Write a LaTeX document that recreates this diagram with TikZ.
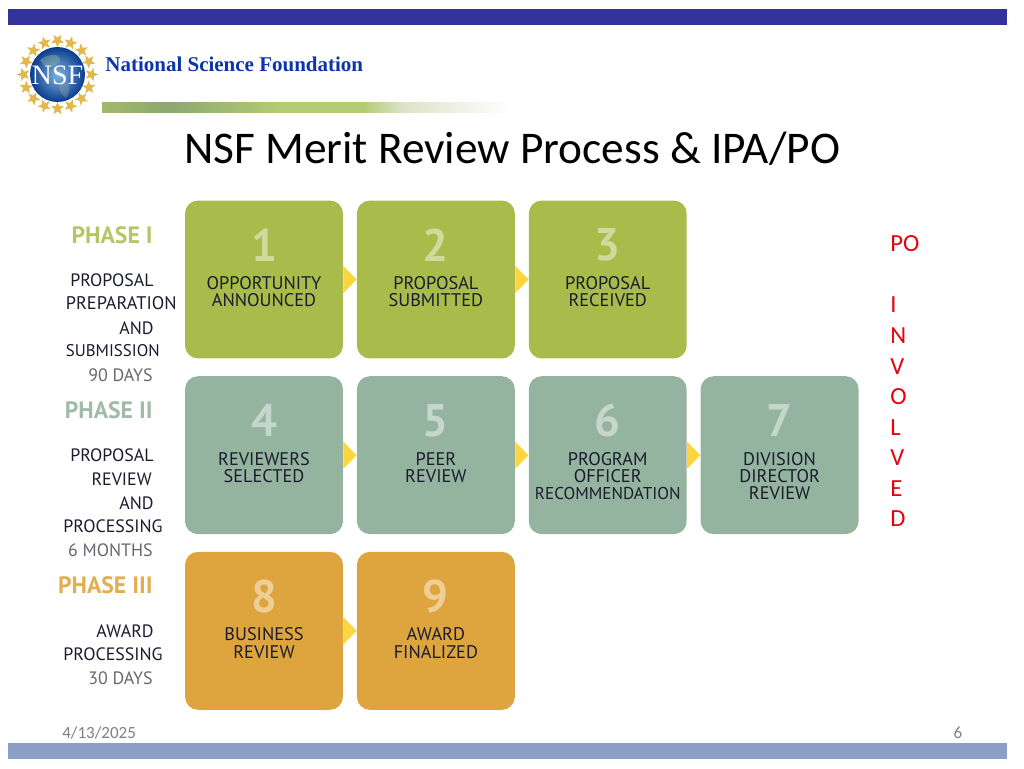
\documentclass[tikz,border=0pt]{standalone}
\usepackage{fontspec}
\setmainfont{Carlito}
\newfontfamily\ptfont{PT Sans}
\newfontfamily\headfont{Liberation Serif}
\usetikzlibrary{positioning}
\usetikzlibrary{arrows.meta}
\usetikzlibrary{shapes.geometric}
\definecolor{topblue}{HTML}{333399}
\definecolor{footblue}{HTML}{8B9FC8}
\definecolor{headblue}{HTML}{0B35A8}
\definecolor{boxgreen}{HTML}{A9BC4B}
\definecolor{boxteal}{HTML}{95B4A0}
\definecolor{boxorange}{HTML}{DEA53F}
\definecolor{flowyellow}{HTML}{FFD53F}
\definecolor{inkdark}{HTML}{1A1C2E}
\definecolor{inkgray}{HTML}{67676F}
\definecolor{gold}{HTML}{E2B84E}
\definecolor{poRed}{HTML}{E8000F}
\definecolor{barA}{HTML}{A3B96A}
\definecolor{barB}{HTML}{8BA870}
\definecolor{barC}{HTML}{B3CC73}
\definecolor{barD}{HTML}{DDE3C8}
\definecolor{globeIn}{HTML}{7DB4E0}
\definecolor{globeOut}{HTML}{0B3C8E}
\pgfdeclarehorizontalshading{barfade}{100bp}{color(0bp)=(barA); color(25bp)=(barA); color(33bp)=(barB); color(47bp)=(barC); color(57bp)=(barC); color(62bp)=(barD); color(75bp)=(white); color(100bp)=(white)}
\tikzset{main node/.style={rectangle,rounded corners=0.26cm,minimum width=3.16cm,minimum height=3.16cm,inner sep=0pt},}
\tikzset{green box/.style={main node,fill=boxgreen},}
\tikzset{teal box/.style={main node,fill=boxteal},}
\tikzset{orange box/.style={main node,fill=boxorange},}
\tikzset{box num/.style={font=\ptfont\bfseries\fontsize{26}{26}\selectfont,anchor=center,inner sep=0pt},}
\tikzset{box label/.style={font=\ptfont\fontsize{10.4}{9.9}\selectfont,text=inkdark,align=center,anchor=north,inner sep=0pt},}
\tikzset{side label/.style={font=\ptfont\fontsize{10.2}{10.2}\selectfont,text=inkdark,anchor=east,inner sep=0pt},}
\tikzset{side days/.style={side label,text=inkgray},}
\tikzset{phase label/.style={font=\ptfont\bfseries\fontsize{13.5}{13.5}\selectfont,anchor=east,inner sep=0pt},}
\tikzset{flow/.style={draw=flowyellow,line width=0.1pt,-{Triangle[length=0.264cm,width=0.54cm,fill=flowyellow]}},}
\tikzset{foot text/.style={font=\fontsize{9.7}{9.7}\selectfont,text=gray,inner sep=0pt},}

\begin{document}
\begin{tikzpicture}[x=0.02cm, y=-0.02cm, node distance=0.34cm and 0.264cm]
	\useasboundingbox (0,0) rectangle (1024,768);

	% header and footer
	\fill[topblue] (8,8.5) rectangle (1007,25);
	\fill[footblue] (8,743) rectangle (1007,759);
	\shade[shading=barfade] (102,102) rectangle (510,112);
	\node[anchor=west,inner sep=0pt,text=headblue,font=\headfont\bfseries\fontsize{11.95}{11.95}\selectfont] (head) at (105,64) {National Science Foundation};
	\node[inner sep=0pt,font=\fontsize{25.8}{25.8}\selectfont] (title) at (512,149) {NSF Merit Review Process \& IPA/PO};
	\node[foot text,anchor=west] (date) at (62,733) {4/13/2025};
	\node[foot text] (page) at (958,733) {6};

	% logo
	\foreach \i in {1,...,16}
		\node[star,star points=5,star point ratio=2.4,fill=gold,minimum size=0.28cm,inner sep=0pt,rotate=22.5*\i-90] (s\i) at ({57.5+34*cos(22.5*\i)},{74.5+34*sin(22.5*\i)}) {};
	\shade[inner color=globeIn,outer color=globeOut] (57.5,74.5) circle (27.5);
	\fill[boxteal,opacity=0.45] (40,60) .. controls (50,52) and (62,54) .. (60,62) .. controls (52,68) and (46,70) .. (40,60);
	\fill[boxteal,opacity=0.35] (60,82) .. controls (70,80) and (72,88) .. (66,98) .. controls (60,94) and (58,88) .. (60,82);
	\node[inner sep=0pt,text=white,font=\headfont\fontsize{16}{16}\selectfont] (nsf) at (57.5,75) {NSF};

	% boxes
	\node[green box] (b1) at (264,279.5) {};
	\node[green box] (b2) [right = of b1] {};
	\node[green box] (b3) [right = of b2] {};
	\node[teal box] (b4) [below = of b1] {};
	\node[teal box] (b5) [right = of b4] {};
	\node[teal box] (b6) [right = of b5] {};
	\node[teal box] (b7) [right = of b6] {};
	\node[orange box] (b8) [below = of b4] {};
	\node[orange box] (b9) [right = of b8] {};

	\foreach \n in {1,2,3}
		\node[box num,text=boxgreen!55!white] (n\n) at ([yshift=-0.9cm]b\n.north) {\n};
	\foreach \n in {4,5,6,7}
		\node[box num,text=boxteal!55!white] (n\n) at ([yshift=-0.9cm]b\n.north) {\n};
	\foreach \n in {8,9}
		\node[box num,text=boxorange!55!white] (n\n) at ([yshift=-0.9cm]b\n.north) {\n};

	\node[box label] (l1) at ([yshift=-1.52cm]b1.north) {OPPORTUNITY\\ANNOUNCED};
	\node[box label] (l2) at ([yshift=-1.52cm]b2.north) {PROPOSAL\\SUBMITTED};
	\node[box label] (l3) at ([yshift=-1.52cm]b3.north) {PROPOSAL\\RECEIVED};
	\node[box label] (l4) at ([yshift=-1.52cm]b4.north) {REVIEWERS\\SELECTED};
	\node[box label] (l5) at ([yshift=-1.52cm]b5.north) {PEER\\REVIEW};
	\node[box label] (l6) at ([yshift=-1.52cm]b6.north) {PROGRAM\\OFFICER\\{\fontsize{9.75}{9.9}\selectfont RECOMMENDATION}};
	\node[box label] (l7) at ([yshift=-1.52cm]b7.north) {DIVISION\\DIRECTOR\\REVIEW};
	\node[box label] (l8) at ([yshift=-1.52cm]b8.north) {BUSINESS\\REVIEW};
	\node[box label] (l9) at ([yshift=-1.52cm]b9.north) {AWARD\\FINALIZED};

	\path[flow]
	(b1) edge (b2)
	(b2) edge (b3)
	(b4) edge (b5)
	(b5) edge (b6)
	(b6) edge (b7)
	(b8) edge (b9);

	% phase texts
	\node[phase label,text=boxgreen!85!white] (p1) at (153,235) {PHASE I};
	\node[side label] (p1a) at (154,280) {PROPOSAL};
	\node[side label,font=\ptfont\fontsize{10.4}{10.4}\selectfont] (p1b) at (177,303) {PREPARATION};
	\node[side label] (p1c) at (154,328) {AND};
	\node[side label,font=\ptfont\fontsize{9.6}{9.6}\selectfont] (p1d) at (160,351) {SUBMISSION};
	\node[side days] (p1e) at (153,375) {90 DAYS};

	\node[phase label,text=boxteal!90!white] (p2) at (153,410) {PHASE II};
	\node[side label] (p2a) at (154,455) {PROPOSAL};
	\node[side label] (p2b) at (152,479) {REVIEW};
	\node[side label] (p2c) at (154,503) {AND};
	\node[side label] (p2d) at (163,526) {PROCESSING};
	\node[side days] (p2e) at (153,550) {6 MONTHS};

	\node[phase label,text=boxorange!90!white] (p3) at (153,585) {PHASE III};
	\node[side label] (p3a) at (154,631) {AWARD};
	\node[side label] (p3b) at (163,654) {PROCESSING};
	\node[side days] (p3c) at (153,678) {30 DAYS};

	% red column
	\node[anchor=north west,inner sep=0pt,align=left,text=poRed,font=\fontsize{14}{17.4}\selectfont] (po) at (890,235.5) {PO\\ \\I\\N\\V\\O\\L\\V\\E\\D};
\end{tikzpicture}
\end{document}
